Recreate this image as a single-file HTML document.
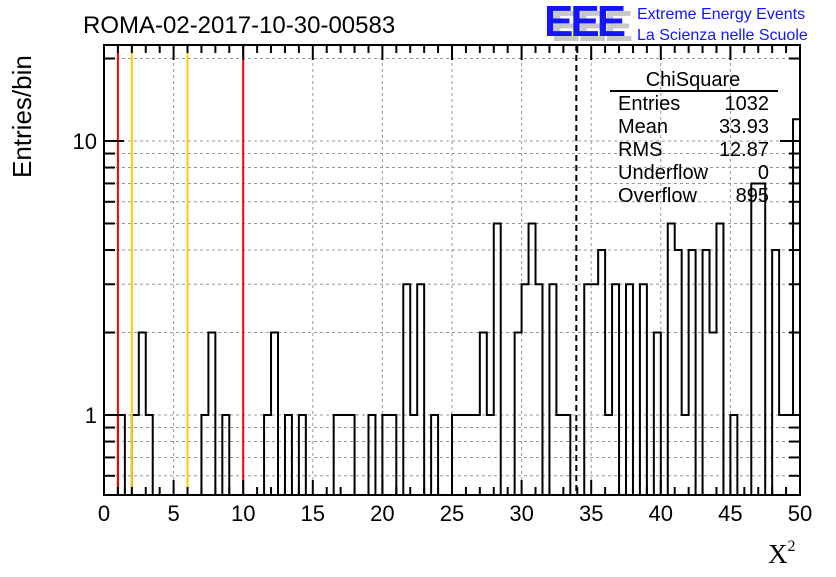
<!DOCTYPE html>
<html><head><meta charset="utf-8"><style>
body{margin:0;background:#fff}
svg text{font-family:"Liberation Sans",Arial,sans-serif}
</style></head><body>
<svg id="chart" width="836" height="572" xmlns="http://www.w3.org/2000/svg">
<rect width="836" height="572" fill="#fff"/>
<g id="grid"></g>
<path id="hist" fill="none" stroke="#000" stroke-width="2"/>
<g id="vlines"></g>
<g id="axes"></g>
<text x="83" y="33" font-size="24">ROMA-02-2017-10-30-00583</text>
<text transform="translate(31,178) rotate(-90)" font-size="26">Entries/bin</text>
<text x="768" y="563" font-size="27" style="font-family:'Liberation Serif',serif">X<tspan font-size="16" dy="-12">2</tspan></text>
<g>
<text x="551" y="41" font-size="44" font-weight="bold" fill="#c8c8c8" letter-spacing="-3">EEE</text>
<text x="544" y="36" font-size="44" font-weight="bold" fill="#1414ff" letter-spacing="-3">EEE</text>
<text x="637" y="19" font-size="16" fill="#1414ff">Extreme Energy Events</text>
<text x="637" y="40" font-size="16" fill="#1414ff">La Scienza nelle Scuole</text>
</g>
<g font-size="20">
<text x="693" y="86" text-anchor="middle">ChiSquare</text>
<line x1="610" y1="91" x2="778" y2="91" stroke="#000" stroke-width="2"/>
<text x="618" y="110">Entries</text><text x="769" y="110" text-anchor="end">1032</text>
<text x="618" y="133">Mean</text><text x="769" y="133" text-anchor="end">33.93</text>
<text x="618" y="156">RMS</text><text x="769" y="156" text-anchor="end">12.87</text>
<text x="618" y="179">Underflow</text><text x="769" y="179" text-anchor="end">0</text>
<text x="618" y="202">Overflow</text><text x="769" y="202" text-anchor="end">895</text>
</g>
</svg>
<script>
const counts = [0,0,1,0,1,2,1,0,0,0, 0,0,0,0,1,2,0,1,0,0, 0,0,0,1,2,0,1,0,1,0,
0,0,0,1,1,1,0,0,1,0, 1,1,0,3,1,3,0,1,0,0, 1,1,1,1,2,1,5,0,0,2, 3,5,3,0,3,1,1,0,0,3,
3,4,1,3,0,3,0,3,0,2, 0,5,4,1,4,0,4,2,5,0, 1,0,0,7,7,0,4,1,1,12];
const binWidth = [0.5];
const xTicks = [0,5,10,15,20,25,30,35,40,45,50];
const yMajor = [1,10];
const yMinor = [0.6,0.7,0.8,0.9,2,3,4,5,6,7,8,9,20];
const redCuts = [1,10];
const yellowCuts = [2,6];
const meanVal = [33.93];
const X0=104,X1=800,Y0=495,Y1=45;
const sx=v=>X0+(X1-X0)*v/50;
const sy=v=>Math.min(Y0,415-274*Math.log10(v));
const NS="http://www.w3.org/2000/svg";
function mk(tag,attrs,parent){const e=document.createElementNS(NS,tag);for(const k in attrs)e.setAttribute(k,attrs[k]);parent.appendChild(e);return e;}
const grid=document.getElementById('grid'),axes=document.getElementById('axes'),vl=document.getElementById('vlines');
xTicks.forEach(t=>{if(t>0&&t<50){const l=mk('line',{x1:sx(t),x2:sx(t),y1:Y1,y2:Y0,stroke:'#999','stroke-dasharray':'3,3'},grid);

}});
yMajor.concat(yMinor).forEach(v=>{const l=mk('line',{x1:X0,x2:X1,y1:sy(v),y2:sy(v),stroke:'#999','stroke-dasharray':'3,3'},grid);

});
let d='M'+X0+','+Y0;
counts.forEach((c,i)=>{const xa=sx(i*binWidth[0]),xb=sx((i+1)*binWidth[0]);const y=c>0?sy(c):Y0;d+=' L'+xa+','+y+' L'+xb+','+y;});
d+=' L'+X1+','+Y0;
document.getElementById('hist').setAttribute('d',d);
redCuts.forEach(v=>{const l=mk('line',{x1:sx(v),x2:sx(v),y1:Y1,y2:Y0,stroke:'#ff0000','stroke-width':2},vl);

});
yellowCuts.forEach(v=>{const l=mk('line',{x1:sx(v),x2:sx(v),y1:Y1,y2:Y0,stroke:'#ffcc00','stroke-width':2},vl);

});
const ml=mk('line',{x1:sx(meanVal[0]),x2:sx(meanVal[0]),y1:Y1,y2:Y0,stroke:'#000','stroke-width':2,'stroke-dasharray':'6,4'},vl);


const fr=mk('rect',{x:X0,y:Y1,width:X1-X0,height:Y0-Y1,fill:'none',stroke:'#000','stroke-width':2},axes);


for(let t=0;t<=50;t++){const len=t%5===0?15:8;
mk('line',{x1:sx(t),x2:sx(t),y1:Y0,y2:Y0-len,stroke:'#000','stroke-width':2},axes);
mk('line',{x1:sx(t),x2:sx(t),y1:Y1,y2:Y1+len,stroke:'#000','stroke-width':2},axes);}
xTicks.forEach(t=>{const tx=mk('text',{x:sx(t),y:521,'font-size':22,'text-anchor':'middle'},axes);tx.textContent=t;

});
yMajor.forEach(v=>{mk('line',{x1:X0,x2:X0+20,y1:sy(v),y2:sy(v),stroke:'#000','stroke-width':2},axes);
mk('line',{x1:X1,x2:X1-20,y1:sy(v),y2:sy(v),stroke:'#000','stroke-width':2},axes);
const tx=mk('text',{x:97,y:sy(v)+8,'font-size':22,'text-anchor':'end'},axes);tx.textContent=v;

});
yMinor.forEach(v=>{mk('line',{x1:X0,x2:X0+11,y1:sy(v),y2:sy(v),stroke:'#000','stroke-width':2},axes);
mk('line',{x1:X1,x2:X1-11,y1:sy(v),y2:sy(v),stroke:'#000','stroke-width':2},axes);});
</script>
</body></html>
